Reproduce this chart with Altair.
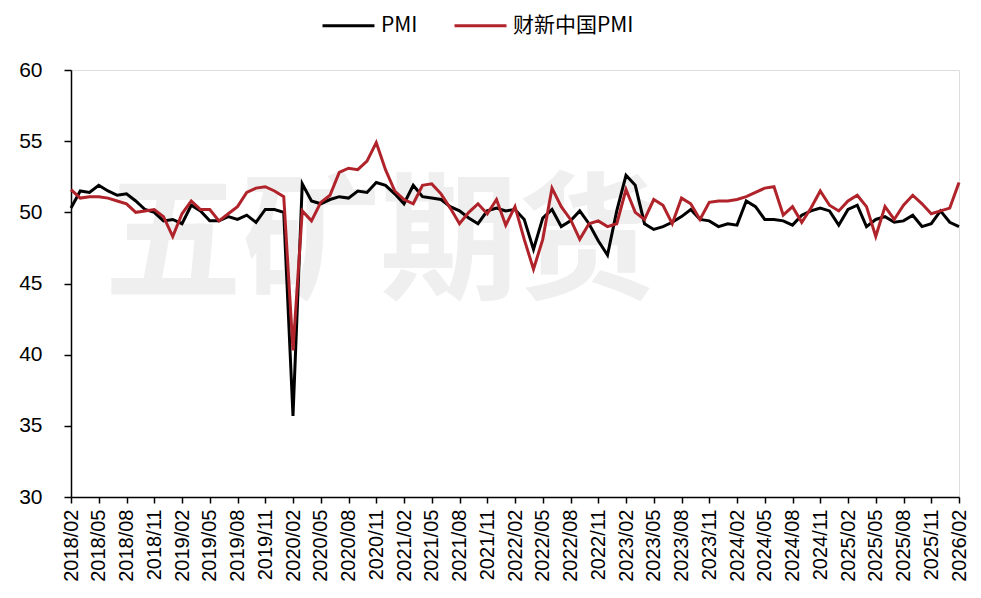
import altair as alt
import pandas as pd

months = [p.strftime("%Y/%m") for p in pd.period_range("2018-02", "2026-02", freq="M")]

pmi = [
    50.3, 51.5, 51.4, 51.9, 51.5, 51.2, 51.3, 50.8, 50.2, 50.0, 49.4,
    49.5, 49.2, 50.5, 50.1, 49.4, 49.4, 49.7, 49.5, 49.8, 49.3, 50.2, 50.2,
    50.0, 35.7, 52.0, 50.8, 50.6, 50.9, 51.1, 51.0, 51.5, 51.4, 52.1, 51.9,
    51.3, 50.6, 51.9, 51.1, 51.0, 50.9, 50.4, 50.1, 49.6, 49.2, 50.1, 50.3,
    50.1, 50.2, 49.5, 47.4, 49.6, 50.2, 49.0, 49.4, 50.1, 49.2, 48.0, 47.0,
    50.1, 52.6, 51.9, 49.2, 48.8, 49.0, 49.3, 49.7, 50.2, 49.5, 49.4, 49.0,
    49.2, 49.1, 50.8, 50.4, 49.5, 49.5, 49.4, 49.1, 49.8, 50.1, 50.3, 50.1,
    49.1, 50.2, 50.5, 49.0, 49.5, 49.7, 49.3, 49.4, 49.8, 49.0, 49.2, 50.1,
    49.3, 49.0,
]

caixin = [
    51.6, 51.0, 51.1, 51.1, 51.0, 50.8, 50.6, 50.0, 50.1, 50.2, 49.7,
    48.3, 49.9, 50.8, 50.2, 50.2, 49.4, 49.9, 50.4, 51.4, 51.7, 51.8, 51.5,
    51.1, 40.3, 50.1, 49.4, 50.7, 51.2, 52.8, 53.1, 53.0, 53.6, 54.9, 53.0,
    51.5, 50.9, 50.6, 51.9, 52.0, 51.3, 50.3, 49.2, 50.0, 50.6, 49.9, 50.9,
    49.1, 50.4, 48.1, 46.0, 48.1, 51.7, 50.4, 49.5, 48.1, 49.2, 49.4, 49.0,
    49.2, 51.6, 50.0, 49.5, 50.9, 50.5, 49.2, 51.0, 50.6, 49.5, 50.7, 50.8,
    50.8, 50.9, 51.1, 51.4, 51.7, 51.8, 49.8, 50.4, 49.3, 50.3, 51.5, 50.5,
    50.1, 50.8, 51.2, 50.4, 48.3, 50.4, 49.5, 50.5, 51.2, 50.6, 49.9, 50.1,
    50.3, 52.1,
]

series_names = ["PMI", "财新中国PMI"]
series_colors = ["#000000", "#B0232A"]
y_ticks = [30, 35, 40, 45, 50, 55, 60]
x_ticks = months[::3]

df = pd.DataFrame({
    "month": months * 2,
    "value": pmi + caixin,
    "series": [series_names[0]] * len(months) + [series_names[1]] * len(months),
})

color = alt.Color(
    "series:N",
    scale=alt.Scale(domain=series_names, range=series_colors),
    legend=alt.Legend(
        title=None,
        orient="none",
        legendX=250,
        legendY=-72,
        direction="horizontal",
        symbolType="stroke",
        symbolSize=2700,
        symbolStrokeWidth=3,
        labelFont="Noto Sans CJK SC",
        labelFontSize=21,
        labelColor="#000000",
        columnPadding=30,
        labelOffset=5,
        labelLimit=300,
    ),
)

x_enc = alt.X(
    "month:O",
    sort=months,
    scale=alt.Scale(padding=0),
    axis=alt.Axis(
        title=None,
        values=x_ticks,
        labelAngle=-90,
        labelFont="Liberation Sans",
        labelFontSize=20,
        labelColor="#000000",
        labelPadding=6,
        tickSize=6,
        tickColor="#000000",
        domainColor="#000000",
        domainWidth=1.5,
        tickWidth=1.5,
        grid=False,
    ),
)

y_enc = alt.Y(
    "value:Q",
    scale=alt.Scale(domain=[30, 60], nice=False, zero=False),
    axis=alt.Axis(
        title=None,
        values=y_ticks,
        labelFont="Liberation Sans",
        labelFontSize=21,
        labelColor="#000000",
        labelPadding=22,
        tickSize=7,
        tickColor="#000000",
        domainColor="#000000",
        domainWidth=1.5,
        tickWidth=1.5,
        grid=False,
    ),
)

watermark = alt.Chart(pd.DataFrame({"t": ["五矿期货"]})).mark_text(
    font="Noto Sans CJK SC",
    fontSize=138,
    fontWeight="bold",
    color="#efefef",
    align="center",
    baseline="middle",
).encode(text="t:N", x=alt.value(309), y=alt.value(177))

base = alt.Chart(df).mark_line(strokeWidth=3).encode(x=x_enc, y=y_enc, color=color)
black = base.transform_filter(alt.datum.series == series_names[0])
red = base.transform_filter(alt.datum.series == series_names[1])

chart = alt.layer(watermark, black, red).properties(
    width=888,
    height=427,
    autosize=alt.AutoSizeParams(type="none"),
    padding={"left": 63, "top": 62, "right": 10, "bottom": 93},
).configure_view(stroke=None).configure(background="#ffffff")

chart.save("out.html", embed_options={"renderer": "svg", "actions": False})
